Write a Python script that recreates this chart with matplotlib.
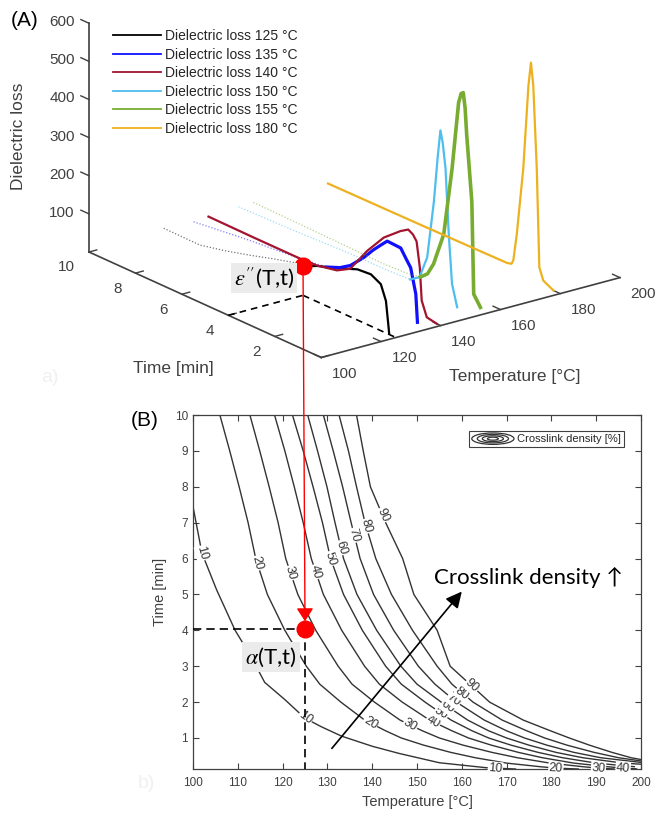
import numpy as np
import matplotlib
matplotlib.use('Agg')
import matplotlib.pyplot as plt
from matplotlib.lines import Line2D
from matplotlib.patches import Ellipse
from matplotlib.legend_handler import HandlerBase

plt.rcParams['font.family'] = ['Liberation Sans', 'DejaVu Sans']
plt.rcParams['mathtext.fontset'] = 'stix'

# ---------------- Panel A data (dielectric loss vs time) ----------------
loss_temps = [125, 135, 140, 150, 155, 180]
loss_labels = ['Dielectric loss 125 °C', 'Dielectric loss 135 °C', 'Dielectric loss 140 °C',
               'Dielectric loss 150 °C', 'Dielectric loss 155 °C', 'Dielectric loss 180 °C']
loss_colors = ['#000000', '#1010ff', '#a2142f', '#4dbeee', '#77ac30', '#edb120']

time_125 = [10, 8.44, 7.36, 6.28, 5.3, 4.4, 3.9, 3.39, 2.52, 1.66, 1.08, 0.65, 0.43, 0.33, 0.29]
loss_125 = [10, 9, 24, 42, 60, 75, 79, 94, 112, 133, 136, 122, 84, 26, 2]
time_135 = [10, 7.58, 5.41, 4.26, 3.7, 3.25, 2.67, 2.25, 1.8, 1.66, 1.08, 0.87, 0.65, 0.43, 0.36]
loss_135 = [6, 24, 36, 46, 60, 78, 115, 147, 177, 186, 184, 164, 144, 81, 9]
time_140 = [10, 8, 6.06, 5.34, 4.47, 3.9, 3.17, 2.45, 1.73, 1.4, 1.2, 1.04, 0.9, 0.82, 0.6, 0.17]
loss_140 = [9, 8, 8, 10, 21, 41, 108, 163, 200, 213, 206, 192, 127, 43, 5, 0]
time_150 = [10, 7.5, 5.2, 3.5, 2.6, 2.2, 1.87, 1.58, 1.42, 1.3, 1.2, 1.08, 0.94, 0.8, 0.58]
loss_150 = [14, 18, 24, 25, 28, 45, 106, 261, 380, 455, 425, 361, 192, 66, 11]
time_155 = [10, 7, 4.4, 3.4, 2.81, 2.5, 2.24, 1.8, 1.44, 1.16, 1.05, 0.96, 0.88, 0.81, 0.59, 0.51, 0.22]
loss_155 = [15, 12, 9, 12, 18, 35, 68, 158, 341, 521, 548, 553, 515, 445, 277, 37, 10]
time_180 = [10, 6, 2.3, 2.1, 2.02, 1.87, 1.59, 1.37, 1.26, 1.16, 1.01, 0.9, 0.73, 0.29]
loss_180 = [12, 14, 17, 20, 31, 104, 285, 507, 571, 513, 300, 44, 14, 0]
# time from which each curve is drawn solid (earlier part is faint/dotted)
solid_from = [3.9, 4.26, 10, 2.6, 2.81, 10]

dot_T, dot_time, dot_loss = 125, 4.0, 76

z_ticks = [100, 200, 300, 400, 500, 600]
time_ticks = [0, 2, 4, 6, 8, 10]
time_ticklabels = ['', '2', '4', '6', '8', '10']
temp_ticks = [100, 120, 140, 160, 180, 200]

# ---------------- Panel B data (crosslink density contours) ----------------
levels = [10, 20, 30, 40, 50, 60, 70, 80, 90]
c10_T = [100, 102, 105.3, 109.4, 113, 116, 120.5, 125, 128.7, 133.2, 140, 146, 155, 165.6, 172]
c10_t = [7.45, 6.15, 5.12, 4.0, 3.26, 2.55, 2.07, 1.55, 1.31, 1.05, 0.77, 0.57, 0.31, 0.17, 0.136]
c20_T = [106.0, 108.2, 110.3, 112.3, 114.0, 116.6, 120.5, 125.3, 128.3, 133.0, 138.3, 143.0, 146.5, 151.5, 157.5, 163.0, 170.0, 177.5, 181.0, 186.0]
c20_t = [10, 9, 8, 7, 6, 5, 4, 3, 2.5, 2, 1.5, 1.2, 1.0, 0.8, 0.6, 0.45, 0.3, 0.2, 0.16, 0.136]
c30_T = [112.7, 114.9, 117.0, 119.0, 120.7, 123.4, 127.4, 132.4, 135.5, 140.5, 146.2, 151.2, 155.0, 160.3, 166.7, 172.4, 179.7, 187.0, 190.5, 194.0]
c30_t = [10, 9, 8, 7, 6, 5, 4, 3, 2.5, 2, 1.5, 1.2, 1.0, 0.8, 0.6, 0.45, 0.3, 0.2, 0.16, 0.136]
c40_T = [118.2, 120.5, 122.6, 124.6, 126.4, 129.1, 133.2, 138.3, 141.6, 146.7, 152.8, 157.8, 161.5, 166.6, 172.6, 178.0, 185.0, 192.5, 196.0, 199.0]
c40_t = [10, 9, 8, 7, 6, 5, 4, 3, 2.5, 2, 1.5, 1.2, 1.0, 0.8, 0.6, 0.45, 0.3, 0.2, 0.16, 0.14]
c50_T = [122.2, 124.6, 126.8, 128.9, 130.7, 133.6, 137.8, 143.0, 146.5, 151.8, 157.6, 162.3, 166.0, 171.0, 177.0, 182.5, 190.0, 198.5]
c50_t = [10, 9, 8, 7, 6, 5, 4, 3, 2.5, 2, 1.5, 1.2, 1.0, 0.8, 0.6, 0.45, 0.3, 0.2]
c60_T = [125.6, 127.8, 129.9, 131.7, 133.6, 136.6, 141.0, 146.4, 150.0, 155.4, 161.3, 166.0, 170.0, 175.0, 181.0, 187.0, 196.0, 200.0]
c60_t = [10, 9, 8, 7, 6, 5, 4, 3, 2.5, 2, 1.5, 1.2, 1.0, 0.8, 0.6, 0.45, 0.3, 0.27]
c70_T = [129.1, 131.3, 133.4, 135.3, 137.3, 140.3, 144.8, 150.3, 154.0, 158.8, 165.0, 170.0, 174.0, 179.0, 185.0, 191.0, 200.0]
c70_t = [10, 9, 8, 7, 6, 5, 4, 3, 2.5, 2, 1.5, 1.2, 1.0, 0.8, 0.6, 0.45, 0.32]
c80_T = [132.6, 134.7, 136.5, 138.4, 140.8, 144.3, 149.0, 154.5, 157.8, 162.5, 169.0, 174.5, 178.5, 183.5, 189.5, 195.0, 200.0]
c80_t = [10, 9, 8, 7, 6, 5, 4, 3, 2.5, 2, 1.5, 1.2, 1.0, 0.8, 0.6, 0.45, 0.36]
c90_T = [136.5, 138.0, 139.6, 143.0, 146.8, 149.3, 154.5, 157.4, 161.8, 166.2, 173.7, 179.8, 184.0, 188.5, 193.5, 197.8, 200.0]
c90_t = [10, 9, 8, 7, 6, 5, 4, 3, 2.5, 2, 1.5, 1.2, 1.0, 0.8, 0.6, 0.45, 0.4]

label_upper = [(102.0, 6.15), (114.3, 5.87), (121.8, 5.6), (127.4, 5.63), (130.7, 6.0),
               (133.0, 6.3), (136.0, 6.65), (138.6, 6.9), (142.3, 7.21)]
label_lower = [(125.0, 1.55), (139.6, 1.42), (148.5, 1.36), (153.6, 1.45), (155.4, 1.69),
               (156.9, 1.87), (158.2, 2.06), (160.1, 2.24), (162.2, 2.45)]
label_bottom = [(167.5, 0.155), (181.0, 0.16), (190.5, 0.16), (196.0, 0.16)]

point_T, point_t = 125, 4.05
arrow_start = (131, 0.71)
arrow_end = (160, 5.08)

# ---------------- Figure ----------------
W, H = 656, 815
fig = plt.figure(figsize=(W / 100, H / 100), dpi=100)
AX = '#404040'

S = 620
ax3 = fig.add_axes([(354 - S / 2) / W, (H - 149 - S / 2) / H, S / W, S / H],
                   projection='3d', proj_type='ortho', computed_zorder=False)
ax3.set_xlim(100, 200)
ax3.set_ylim(0, 10)
ax3.set_zlim(0, 600)
ax3.set_box_aspect((378, 383, 245))
ax3.view_init(elev=20.4, azim=-127.5)
ax3.set_axis_off()
ax3.set_facecolor('none')

# axes lines and tick marks
ax3.plot([100, 100], [10, 10], [0, 600], color=AX, lw=1.2)
ax3.plot([100, 100], [10, 0], [0, 0], color=AX, lw=1.2)
ax3.plot([100, 200], [0, 0], [0, 0], color=AX, lw=1.2)
for z in z_ticks:
    ax3.plot([100, 100], [10, 10.35], [z, z], color=AX, lw=1.0)
for tt in time_ticks:
    ax3.plot([100, 102.6], [tt, tt], [0, 0], color=AX, lw=1.0)
for T in temp_ticks:
    ax3.plot([T, T], [0, 0.32], [0, 0], color=AX, lw=1.0)

# dashed guide lines
ax3.plot([100, dot_T], [dot_time, dot_time], [0, 0], color='k', lw=1.2, dashes=(4, 3))
ax3.plot([dot_T, dot_T], [dot_time, 0], [0, 0], color='k', lw=1.2, dashes=(4, 3))

times = [time_125, time_135, time_140, time_150, time_155, time_180]
losses = [loss_125, loss_135, loss_140, loss_150, loss_155, loss_180]
solid_lw = [1.6, 2.3, 1.6, 1.6, 2.6, 1.6]
handles = []
for T, ts, zs, c, s0, lw in zip(loss_temps, times, losses, loss_colors, solid_from, solid_lw):
    ts = np.array(ts, float)
    zs = np.array(zs, float)
    faint = ts >= s0
    solid = ts <= s0
    if faint.sum() > 1:
        ax3.plot(np.full(faint.sum(), T), ts[faint], zs[faint], color=c, lw=0.9,
                 linestyle=(0, (1, 1.5)), alpha=0.55)
    ax3.plot(np.full(solid.sum(), T), ts[solid], zs[solid], color=c, lw=lw)
    handles.append(Line2D([], [], color=c, lw=1.3))

ax3.plot([dot_T], [dot_time], [dot_loss], 'o', color='red', ms=12)

fig.legend(handles, loss_labels, loc='upper left', bbox_to_anchor=(113 / W, 1 - 29 / H),
           frameon=False, fontsize=10, handlelength=3.45, handletextpad=0.3,
           labelspacing=0.33, borderpad=0, borderaxespad=0, labelcolor='#262626')

fig.text(19 / W, 1 - 136 / H, 'Dielectric loss', rotation=90, ha='center', va='center',
         fontsize=12.5, color=AX)
fig.text(173 / W, 1 - 368 / H, 'Time [min]', ha='center', va='center', fontsize=12.5, color=AX)
fig.text(515 / W, 1 - 377 / H, 'Temperature [°C]', ha='center', va='center', fontsize=12.5, color=AX)
fig.text(25 / W, 1 - 21 / H, '(A)', ha='center', va='center', fontsize=15)
fig.text(145 / W, 1 - 420 / H, '(B)', ha='center', va='center', fontsize=15)
fig.text(50 / W, 1 - 378 / H, 'a)', ha='center', va='center', fontsize=14, color='#f0f0f0')
fig.text(146 / W, 1 - 783 / H, 'b)', ha='center', va='center', fontsize=14, color='#f0f0f0')
fig.text(264 / W, 1 - 278 / H, r"$\varepsilon''$(T,t)", ha='center', va='center', fontsize=16,
         family=['Lato', 'DejaVu Sans'],
         bbox=dict(boxstyle='square,pad=0.12', fc='#ebebeb', ec='none'))

# ---------------- Panel B ----------------
ax2 = fig.add_axes([193 / W, (H - 769) / H, 448 / W, 354 / H])
ax2.set_xlim(100, 200)
ax2.set_ylim(0.136, 10)
ax2.set_xticks(range(100, 201, 10))
ax2.set_yticks(range(1, 11))
ax2.tick_params(direction='in', top=True, right=True, length=4, width=0.8, colors=AX, labelsize=8.5)
ax2.tick_params(axis='x', pad=6)
ax2.tick_params(axis='y', pad=3.5)
for sp in ax2.spines.values():
    sp.set_color(AX)
    sp.set_linewidth(0.9)
ax2.set_xlabel('Temperature [°C]', fontsize=10.5, color=AX, labelpad=4)
ax2.set_ylabel('Time [min]', fontsize=10.5, color=AX, labelpad=6)

contours_T = [c10_T, c20_T, c30_T, c40_T, c50_T, c60_T, c70_T, c80_T, c90_T]
contours_t = [c10_t, c20_t, c30_t, c40_t, c50_t, c60_t, c70_t, c80_t, c90_t]
for Ts, ts in zip(contours_T, contours_t):
    ax2.plot(Ts, ts, color='#333333', lw=1.0, zorder=2)


def put_label(Ts, ts, T0, t0, txt):
    pts = ax2.transData.transform(np.column_stack([Ts, ts]))
    p0 = ax2.transData.transform((T0, t0))
    i = int(np.argmin(np.hypot(*(pts - p0).T)))
    j0, j1 = max(i - 1, 0), min(i + 1, len(Ts) - 1)
    dx, dy = pts[j1] - pts[j0]
    ang = np.degrees(np.arctan2(dy, dx))
    if ang > 90:
        ang -= 180
    if ang < -90:
        ang += 180
    ax2.text(T0, t0, txt, rotation=ang, rotation_mode='anchor', ha='center', va='center',
             fontsize=9, color='#333333', zorder=3,
             bbox=dict(boxstyle='square,pad=0.05', fc='white', ec='none'))


for k, lev in enumerate(levels):
    put_label(contours_T[k], contours_t[k], *label_upper[k], str(lev))
    put_label(contours_T[k], contours_t[k], *label_lower[k], str(lev))
    if k < len(label_bottom):
        put_label(contours_T[k], contours_t[k], *label_bottom[k], str(lev))

ax2.plot([100, point_T], [point_t, point_t], color='k', lw=1.2, dashes=(5, 3), zorder=4)
ax2.plot([point_T, point_T], [point_t, 0.136], color='k', lw=1.2, dashes=(5, 3), zorder=4)
ax2.plot([point_T], [point_t], 'o', color='red', ms=12, zorder=6, clip_on=False)

ax2.annotate('', xy=arrow_end, xytext=arrow_start,
             arrowprops=dict(arrowstyle='-|>', color='black', lw=1.2, mutation_scale=24,
                             shrinkA=0, shrinkB=0), zorder=5)
ax2.text(174.8, 5.48, 'Crosslink density ↑', ha='center', va='center', fontsize=16,
         family=['Lato', 'DejaVu Sans'], color='black', zorder=5)
ax2.text(117.4, 3.26, r'$\alpha$(T,t)', ha='center', va='center', fontsize=16,
         family=['Lato', 'DejaVu Sans'], zorder=5,
         bbox=dict(boxstyle='square,pad=0.15', fc='#ebebeb', ec='none'))


class RingHandler(HandlerBase):
    def create_artists(self, legend, orig_handle, xdescent, ydescent, width, height, fontsize, trans):
        cx = 0.5 * width - xdescent
        cy = 0.5 * height - ydescent
        out = []
        for f in [1.0, 0.74, 0.5, 0.26]:
            out.append(Ellipse((cx, cy), width * f, height * 1.15 * f, fill=False,
                               edgecolor='#333333', lw=0.9, transform=trans))
        return out


leg = ax2.legend([Line2D([], [])], ['Crosslink density [%]'], handler_map={Line2D: RingHandler()},
                 loc='upper right', bbox_to_anchor=(0.962, 0.955), borderaxespad=0, fontsize=8,
                 fancybox=False, framealpha=1, edgecolor=AX, handlelength=3.8, handleheight=1.0,
                 handletextpad=0.3, borderpad=0.25, labelcolor='#262626')
leg.get_frame().set_linewidth(0.8)


# ---------------- calibrate 3D axes placement ----------------
def proj_px(x, y, z):
    M = ax3.get_proj()
    v = M @ np.array([x, y, z, 1.0])
    return ax3.transData.transform((v[0] / v[3], v[1] / v[3]))


tA = np.array([89.0, H - 252.0])
tB = np.array([620.0, H - 277.0])
for _ in range(4):
    fig.canvas.draw()
    a = proj_px(100, 10, 0)
    b = proj_px(200, 0, 0)
    s = np.linalg.norm(tB - tA) / np.linalg.norm(b - a)
    bb = ax3.get_position(original=True)
    x0, y0, w, h = bb.x0 * W, bb.y0 * H, bb.width * W, bb.height * H
    nx0, ny0 = tA - s * (a - np.array([x0, y0]))
    ax3.set_position([nx0 / W, ny0 / H, w * s / W, h * s / H])

fig.canvas.draw()

# tick labels of the 3D panel, placed at projected tick positions
for z in z_ticks:
    p = proj_px(100, 10.61, z - 14)
    fig.text(p[0] / W, p[1] / H, str(z), ha='right', va='center', fontsize=11, color=AX)
for tt, lab in zip(time_ticks, time_ticklabels):
    if lab:
        p = proj_px(95.3, tt, -30.6)
        fig.text(p[0] / W, p[1] / H, lab, ha='right', va='center', fontsize=11, color=AX)
for T in temp_ticks:
    p = proj_px(T, -1.0, -15.6)
    fig.text(p[0] / W, p[1] / H, str(T), ha='center', va='center', fontsize=11, color=AX)

d = proj_px(dot_T, dot_time, dot_loss)
ax2.annotate('', xy=(point_T, 4.25), xytext=(d[0], d[1]), textcoords='figure pixels',
             arrowprops=dict(arrowstyle='-|>,head_length=0.5,head_width=0.32', color='red', lw=1.0,
                             mutation_scale=16, shrinkA=0, shrinkB=0),
             annotation_clip=False, zorder=7)

fig.savefig('out.png', dpi=100)
